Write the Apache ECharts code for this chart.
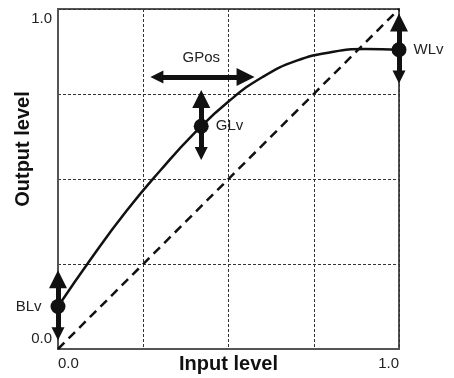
<!DOCTYPE html>
<html>
<head>
<meta charset="utf-8">
<script src="https://cdn.jsdelivr.net/npm/echarts/dist/echarts.min.js"></script>
<style>
  html, body { margin: 0; padding: 0; background: #fff; }
  #main { width: 454px; height: 378px; }
</style>
</head>
<body>
<div id="main"></div>
<script>
// gamma-like tone curve
var curveX = [0, 0.1, 0.2, 0.3, 0.4, 0.5, 0.6, 0.7, 0.8, 0.9, 1];
var curveY = [0.125, 0.27, 0.405, 0.525, 0.635, 0.728, 0.8, 0.848, 0.873, 0.882, 0.88];
// dashed reference (input = output)
var diagX = [0, 1];
var diagY = [0, 1];
// control points
var pointNames = ['BLv', 'GLv', 'WLv'];
var pointX = [0, 0.42, 1];
var pointY = [0.125, 0.655, 0.88];
var arrowHalf = 0.08;          // vertical arrows, half length of the shaft
// GPos horizontal arrow
var gposY = 0.80;
var gposFrom = 0.29;
var gposTo = 0.55;
// tick labels
var tickLabels = ['0.0', '', '', '', '1.0'];

var FONT = "'Liberation Sans', Arial, Helvetica, sans-serif";
var INK = '#111';

var chart = echarts.init(document.getElementById('main'), null, { renderer: 'canvas' });

var curveData = curveX.map(function (x, i) { return [x, curveY[i]]; });
var diagData = diagX.map(function (x, i) { return [x, diagY[i]]; });

var arrowData = pointX.map(function (x, i) {
  return { coords: [[x, pointY[i] - arrowHalf], [x, pointY[i] + arrowHalf]] };
});
// GPos arrow carries its own label above the middle
arrowData.push({
  coords: [[gposFrom, gposY], [gposTo, gposY]],
  label: {
    show: true,
    position: 'middle',
    distance: 12,
    formatter: 'GPos',
    fontFamily: FONT, fontSize: 15, color: '#222'
  }
});

var labelPos = ['left', 'right', 'right'];
var dotData = pointX.map(function (x, i) {
  return {
    value: [x, pointY[i]],
    name: pointNames[i],
    label: { position: labelPos[i], distance: labelPos[i] == 'left' ? 9 : 7 }
  };
});

var option = {
  backgroundColor: '#fff',
  animation: false,
  grid: {
    left: 58, top: 9, right: 55, bottom: 29,
    outerBoundsMode: 'none',
    containLabel: false,
    show: true,
    borderColor: '#555',
    borderWidth: 2
  },
  xAxis: {
    type: 'value',
    min: 0, max: 1, interval: 0.25,
    name: 'Input level',
    nameLocation: 'middle',
    nameGap: 5,
    nameMoveOverlap: false,
    nameTextStyle: { fontFamily: FONT, fontSize: 20, fontWeight: 'bold', color: INK },
    axisLine: { show: true, lineStyle: { color: '#555', width: 2 } },
    axisTick: { show: false },
    axisLabel: {
      margin: 7,
      fontFamily: FONT, fontSize: 15, color: '#222',
      alignMinLabel: 'left', alignMaxLabel: 'right',
      formatter: function (v, i) { return tickLabels[i]; }
    },
    splitLine: { show: true, lineStyle: { color: '#333', width: 1, type: [3, 2] } }
  },
  yAxis: {
    type: 'value',
    min: 0, max: 1, interval: 0.25,
    name: 'Output level',
    nameLocation: 'middle',
    nameGap: 25,
    nameMoveOverlap: false,
    nameTextStyle: {
      fontFamily: FONT, fontSize: 20, fontWeight: 'bold', color: INK,
      padding: [0, 0, 0, 60]
    },
    axisLine: { show: true, lineStyle: { color: '#555', width: 2 } },
    axisTick: { show: false },
    axisLabel: {
      margin: 6,
      fontFamily: FONT, fontSize: 15, color: '#222',
      formatter: function (v, i) {
        if (!tickLabels[i]) return '';
        return i == 0 ? '{lo|' + tickLabels[i] + '}' : '{hi|' + tickLabels[i] + '}';
      },
      rich: {
        lo: { fontFamily: FONT, fontSize: 15, color: '#222', padding: [0, 0, 20, 0] },
        hi: { fontFamily: FONT, fontSize: 15, color: '#222', padding: [20, 0, 0, 0] }
      }
    },
    splitLine: { show: true, lineStyle: { color: '#333', width: 1, type: [3, 2] } }
  },
  series: [
    {
      name: 'diagonal',
      type: 'line',
      data: diagData,
      symbol: 'none',
      clip: false,
      lineStyle: { color: INK, width: 2.5, type: [9, 6] },
      z: 3
    },
    {
      name: 'curve',
      type: 'line',
      data: curveData,
      symbol: 'none',
      smooth: 0.5,
      clip: false,
      lineStyle: { color: INK, width: 2.5 },
      z: 4
    },
    {
      name: 'arrows',
      type: 'lines',
      coordinateSystem: 'cartesian2d',
      data: arrowData,
      symbol: ['triangle', 'triangle'],
      symbolSize: [13, 18],
      clip: false,
      lineStyle: { color: INK, width: 5, opacity: 1 },
      z: 5
    },
    {
      name: 'points',
      type: 'scatter',
      data: dotData,
      symbolSize: 15,
      clip: false,
      itemStyle: { color: INK, opacity: 1 },
      label: {
        show: true,
        formatter: '{b}',
        fontFamily: FONT, fontSize: 15, color: '#222'
      },
      z: 6
    }
  ]
};

chart.setOption(option);
</script>
</body>
</html>
